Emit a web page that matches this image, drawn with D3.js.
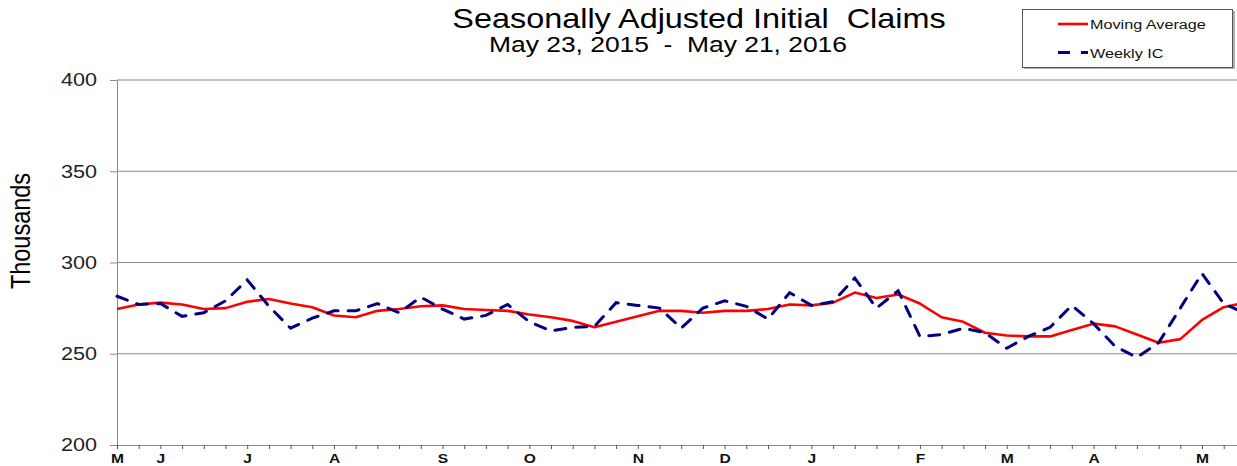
<!DOCTYPE html>
<html>
<head>
<meta charset="utf-8">
<script src="https://cdn.jsdelivr.net/npm/d3@7"></script>
<style>
    body { margin: 0; background: #fff; }
    svg { display: block; font-family: 'Liberation Sans', Arial, sans-serif; }
    text { white-space: pre; }
</style>
</head>
<body>
<svg id="canvas" width="1237" height="466"></svg>
<script>
// weekly values, thousands, week ending May 23 2015 .. May 21 2016
const movingAverage = [274.5, 277, 278, 277, 274.5, 275, 278.5, 280, 277.5, 275.5,
    271, 270, 273.5, 274.5, 276, 276.5, 274.5, 274, 273.5, 271.5,
    270, 268, 264.5, 267.5, 270.5, 273.5, 273.5, 272.5, 273.5, 273.5,
    274.5, 277, 276.5, 278, 283.5, 280.5, 282.5, 277.5, 270, 267.5,
    261.5, 260, 259.5, 259.5, 263, 266.5, 265, 260.5, 256, 258,
    268.5, 275.5, 278]

const weeklyIC = [281.5, 277, 277.5, 270.5, 272.5, 279, 290.5, 276, 264, 269.5,
    273.5, 273.5, 277.5, 272.5, 281, 274.5, 269, 271, 277, 267.5,
    262.5, 264.5, 265, 278, 276.5, 275, 264, 275, 279, 276,
    269, 283.5, 276.5, 278.5, 291.5, 275, 284.5, 259.5, 260.5, 264,
    261.5, 253, 259.5, 264.5, 276.5, 266.5, 254, 248, 256, 275,
    294, 277.5, 272]

const yTicks = [200, 250, 300, 350, 400]
const gridValues = [250, 300, 350, 400]

const seriesNames = ['Moving Average', 'Weekly IC']
const title = 'Seasonally Adjusted Initial  Claims'
const subtitle = 'May 23, 2015  -  May 21, 2016'
const yLabel = 'Thousands'

const firstWeek = new Date(2015, 4, 23)
const weeks = d3.range(weeklyIC.length).map((i) => d3.timeDay.offset(firstWeek, 7 * i))

const stretch = 'scale(1.2,1)'

const canvas = d3.select('#canvas')

const xScale = d3.scaleTime()
    .domain([weeks[0], weeks[weeks.length - 1]])
    .range([117, 1245.4])

const yScale = d3.scaleLinear()
    .domain([200, 400])
    .range([445, 80])

// month letter on the first week of each month (and the first week)
const monthLetter = (d) => {
    let i = weeks.findIndex((w) => +w === +d)
    if (i === 0 || weeks[i].getMonth() !== weeks[i - 1].getMonth()) {
        return d3.timeFormat('%b')(d).charAt(0)
    }
    return ''
}

// gridlines
canvas.append('g')
    .selectAll('line')
    .data(gridValues)
    .enter()
    .append('line')
    .attr('x1', 117)
    .attr('x2', 1237)
    .attr('y1', (v) => yScale(v))
    .attr('y2', (v) => yScale(v))
    .attr('stroke', '#8a8a8a')
    .attr('stroke-width', 1.2)

// y axis
let yAxis = canvas.append('g')
    .attr('transform', 'translate(117,0)')
    .call(d3.axisLeft(yScale).tickValues(yTicks).tickSize(7).tickSizeOuter(0))
yAxis.select('.domain').attr('stroke', '#8a8a8a')
yAxis.selectAll('.tick line').attr('stroke', '#8a8a8a')
yAxis.selectAll('.tick text')
    .attr('x', -20 / 1.2)
    .attr('transform', stretch)
    .attr('font-size', 18)
    .attr('font-family', "'Liberation Sans', Arial, sans-serif")
    .attr('fill', '#222')

// x axis
let xAxis = canvas.append('g')
    .attr('transform', 'translate(0,445)')
    .call(d3.axisBottom(xScale).tickValues(weeks).tickSize(4).tickSizeOuter(0).tickFormat(monthLetter))
xAxis.select('.domain').attr('stroke', '#8a8a8a')
xAxis.selectAll('.tick line').attr('stroke', '#555')
xAxis.selectAll('.tick text')
    .attr('y', 9)
    .attr('transform', stretch)
    .attr('font-size', 13)
    .attr('font-weight', 'bold')
    .attr('font-family', "'Liberation Sans', Arial, sans-serif")
    .attr('fill', '#111')

// lines
let lineMaker = (values) => d3.line()
    .x((v, i) => xScale(weeks[i]))
    .y((v) => yScale(v))(values)

canvas.append('path')
    .attr('d', lineMaker(movingAverage))
    .attr('fill', 'none')
    .attr('stroke', '#ff0000')
    .attr('stroke-width', 2.6)
    .attr('stroke-linejoin', 'round')

canvas.append('path')
    .attr('d', lineMaker(weeklyIC))
    .attr('fill', 'none')
    .attr('stroke', '#000080')
    .attr('stroke-width', 3)
    .attr('stroke-dasharray', '11,10')
    .attr('stroke-linecap', 'round')

// titles
canvas.append('text')
    .attr('transform', 'translate(699,28) ' + stretch)
    .attr('text-anchor', 'middle')
    .attr('font-size', 27)
    .attr('fill', '#000')
    .text(title)

canvas.append('text')
    .attr('transform', 'translate(668,51.5) ' + stretch)
    .attr('text-anchor', 'middle')
    .attr('font-size', 22)
    .attr('fill', '#000')
    .text(subtitle)

canvas.append('text')
    .attr('transform', 'translate(30,231) ' + stretch + ' rotate(-90)')
    .attr('text-anchor', 'middle')
    .attr('font-size', 23.5)
    .attr('fill', '#000')
    .text(yLabel)

// legend
let legend = canvas.append('g')
legend.append('rect')
    .attr('x', 1024).attr('y', 11).attr('width', 211).attr('height', 58)
    .attr('fill', '#b0b0b0')
legend.append('rect')
    .attr('x', 1022.5).attr('y', 9.5).attr('width', 210).attr('height', 58)
    .attr('fill', '#fff')
    .attr('stroke', '#555')

legend.append('line')
    .attr('x1', 1058).attr('x2', 1088).attr('y1', 24).attr('y2', 24)
    .attr('stroke', '#ff0000').attr('stroke-width', 2.6)
legend.append('line')
    .attr('x1', 1058).attr('x2', 1088).attr('y1', 52.5).attr('y2', 52.5)
    .attr('stroke', '#000080').attr('stroke-width', 3)
    .attr('stroke-dasharray', '12,11')

legend.selectAll('text.lg')
    .data(seriesNames)
    .enter()
    .append('text')
    .attr('class', 'lg')
    .attr('transform', (d, i) => 'translate(1090,' + (29 + i * 28.5) + ') ' + stretch)
    .attr('font-size', 13.5)
    .attr('fill', '#111')
    .text((d) => d)
</script>
</body>
</html>
